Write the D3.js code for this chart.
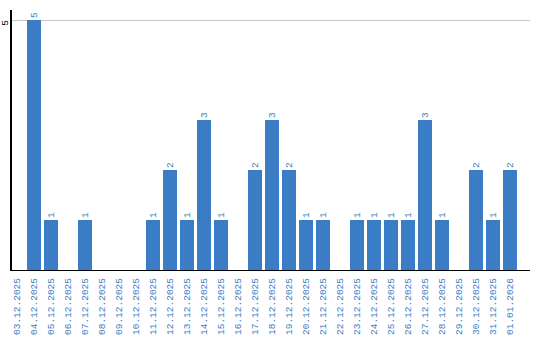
<!DOCTYPE html>
<html>
<head>
<meta charset="utf-8">
<script src="https://cdn.jsdelivr.net/npm/d3@7"></script>
<style>
  body { margin: 0; background: #fff; }
  svg { display: block; }
  .lbl { font-family: "Liberation Mono", monospace; font-size: 9.5px; fill: #3b7dc4; }
</style>
</head>
<body>
<svg id="chart"></svg>
<script>
// dates on the x axis
const dates = ['03.12.2025', '04.12.2025', '05.12.2025', '06.12.2025', '07.12.2025',
  '08.12.2025', '09.12.2025', '10.12.2025', '11.12.2025', '12.12.2025',
  '13.12.2025', '14.12.2025', '15.12.2025', '16.12.2025', '17.12.2025',
  '18.12.2025', '19.12.2025', '20.12.2025', '21.12.2025', '22.12.2025',
  '23.12.2025', '24.12.2025', '25.12.2025', '26.12.2025', '27.12.2025',
  '28.12.2025', '29.12.2025', '30.12.2025', '31.12.2025', '01.01.2026'];
// count per date
const counts = [0, 5, 1, 0, 1, 0, 0, 0, 1, 2,
  1, 3, 1, 0, 2, 3, 2, 1, 1, 0,
  1, 1, 1, 1, 3, 1, 0, 2, 1, 2];
const yTicks = [5];

const width = 540, height = 340;
const barColor = '#3b7dc4';

const svg = d3.select('#chart')
    .attr('width', width)
    .attr('height', height);

const x = d3.scaleBand()
    .domain(dates)
    .range([8.5, 518.5])
    .paddingInner(3 / 17)
    .paddingOuter(1.5 / 17);

const y = d3.scaleLinear()
    .domain([0, 5])
    .range([270, 20]);

// grid line at the top tick
svg.selectAll('.grid')
    .data(yTicks)
  .join('line')
    .attr('class', 'grid')
    .attr('x1', 10).attr('x2', 530)
    .attr('y1', d => Math.round(y(d)) + 0.5)
    .attr('y2', d => Math.round(y(d)) + 0.5)
    .attr('stroke', '#c8c8c8');

// y tick labels, rotated
svg.selectAll('.ytick')
    .data(yTicks)
  .join('text')
    .attr('class', 'ytick')
    .attr('transform', d => `translate(5,${y(d) + 3}) rotate(-90)`)
    .attr('text-anchor', 'middle')
    .attr('dy', '0.35em')
    .style('font-family', '"Liberation Mono", monospace')
    .style('font-size', '9.5px')
    .attr('fill', '#000')
    .text(d => d);

const rows = counts.map((c, i) => ({ date: dates[i], count: c })).filter(d => d.count > 0);

// bars
svg.selectAll('.bar')
    .data(rows)
  .join('rect')
    .attr('class', 'bar')
    .attr('x', d => x(d.date))
    .attr('width', x.bandwidth())
    .attr('y', d => y(d.count))
    .attr('height', d => y(0) - y(d.count))
    .attr('fill', barColor);

// value labels above bars
svg.selectAll('.val')
    .data(rows)
  .join('text')
    .attr('class', 'lbl val')
    .attr('transform', d => `translate(${x(d.date) + x.bandwidth() / 2},${y(d.count) - 2}) rotate(-90)`)
    .attr('text-anchor', 'start')
    .attr('dy', '0.35em')
    .text(d => d.count);

// x axis labels
svg.selectAll('.xtick')
    .data(dates)
  .join('text')
    .attr('class', 'lbl xtick')
    .attr('transform', d => `translate(${x(d) + x.bandwidth() / 2},278) rotate(-90)`)
    .attr('text-anchor', 'end')
    .attr('dy', '0.35em')
    .text(d => d);

// axis lines
svg.append('line')
    .attr('x1', 11).attr('x2', 11)
    .attr('y1', 10).attr('y2', 270)
    .attr('stroke', '#000').attr('stroke-width', 2);
svg.append('line')
    .attr('x1', 10).attr('x2', 530)
    .attr('y1', 270.5).attr('y2', 270.5)
    .attr('stroke', '#000');
</script>
</body>
</html>
